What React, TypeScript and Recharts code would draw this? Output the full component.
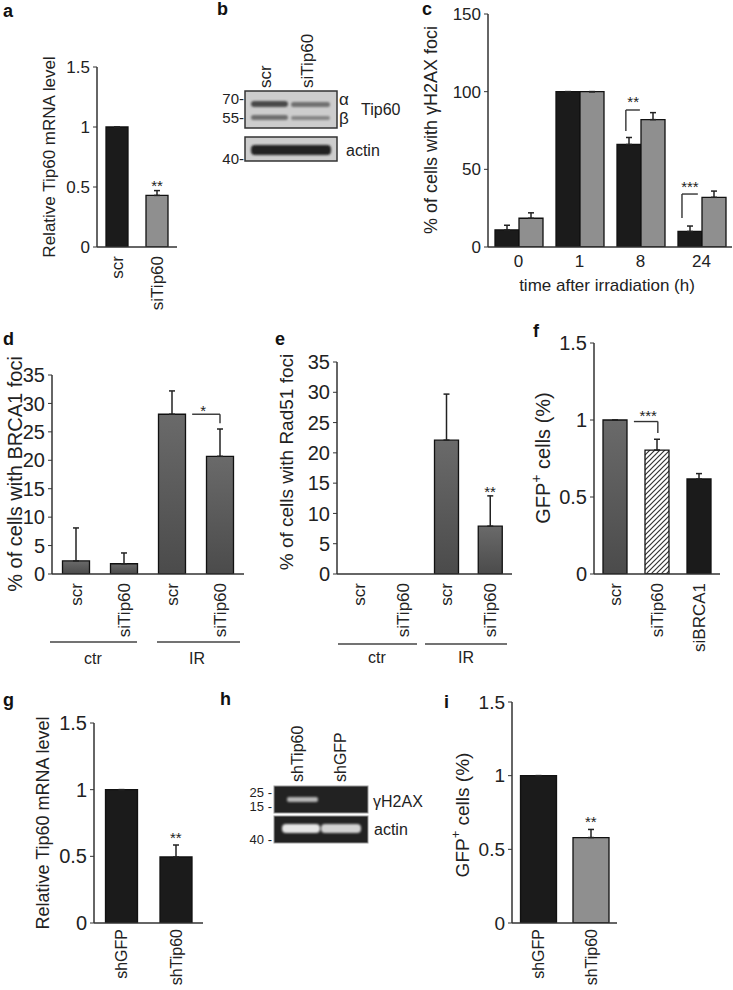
import React from "react";
import {
  BarChart,
  Bar,
  XAxis,
  YAxis,
  ErrorBar,
  Cell,
  ReferenceLine,
  ReferenceDot,
} from "recharts";

const FONT = '"Liberation Sans", Arial, Helvetica, sans-serif';
const INK = "#222";
const AXIS = "#333";
const BLACK = "#1b1b1b";
const GRAY = "#8f8f8f";

// a - Tip60 mRNA, siRNA
const A_LABELS = ["scr", "siTip60"];
const A_VALUES = [1, 0.43];
const A_ERR = [0, 0.04];
const UNIT_TICKS = [0, 0.5, 1, 1.5];

// c - gammaH2AX foci over time
const C_HOURS = ["0", "1", "8", "24"];
const C_SCR = [11, 100, 66, 10];
const C_SCR_ERR = [3, 0, 4.5, 3.5];
const C_SI = [18.5, 100, 82, 32];
const C_SI_ERR = [3.5, 0, 4.5, 4];
const C_TICKS = [0, 50, 100, 150];

// d / e - BRCA1 and Rad51 foci
const DE_LABELS = ["scr", "siTip60", "scr", "siTip60"];
const D_VALUES = [2.3, 1.8, 28.1, 20.7];
const D_ERR = [5.8, 1.9, 4.1, 4.8];
const E_VALUES = [0, 0, 22.1, 7.9];
const E_ERR = [0, 0, 7.6, 5];
const FOCI_TICKS = [0, 5, 10, 15, 20, 25, 30, 35];

// f - GFP+ cells, siRNA
const F_LABELS = ["scr", "siTip60", "siBRCA1"];
const F_VALUES = [1, 0.805, 0.617];
const F_ERR = [0, 0.07, 0.035];
const F_FILLS = ["url(#barGrad)", "url(#hatch)", BLACK];

// g / i - shRNA
const SH_LABELS = ["shGFP", "shTip60"];
const G_VALUES = [1, 0.495];
const G_ERR = [0, 0.09];
const I_VALUES = [1, 0.58];
const I_ERR = [0, 0.055];

// significance marks: brackets are polylines of [category position, value]
const A_STARS: [number, number, string][] = [[1.5, 0.51, "**"]];
const C_BRACKETS = [
  [[2.26, 74.7], [2.26, 88.2], [2.49, 88.2]],
  [[3.18, 18.7], [3.18, 34.1], [3.44, 34.1]],
];
const C_STARS: [number, number, string][] = [
  [2.38, 93.4, "**"],
  [3.31, 38.6, "***"],
];
const D_BRACKETS = [[[2.92, 28.1], [3.5, 28.1], [3.5, 26.5]]];
const D_STARS: [number, number, string][] = [[3.15, 28.8, "*"]];
const E_STARS: [number, number, string][] = [[3.5, 13.6, "**"]];
const F_BRACKETS = [[[0.95, 0.99], [1.52, 0.99], [1.52, 0.915]]];
const F_STARS: [number, number, string][] = [[1.29, 1.03, "***"]];
const G_STARS: [number, number, string][] = [[1.5, 0.64, "**"]];
const I_STARS: [number, number, string][] = [[1.5, 0.69, "**"]];

const rows = (labels: string[], values: number[], errs: number[]) =>
  labels.map((name, i) => ({ name, pos: i + 0.5, value: values[i], err: [0, errs[i]] }));

const cData = C_HOURS.map((name, i) => ({
  name,
  pos: i + 0.5,
  scr: C_SCR[i],
  si: C_SI[i],
  scrErr: [0, C_SCR_ERR[i]],
  siErr: [0, C_SI_ERR[i]],
}));

const rotTick = (size: number) => (p: any) => (
  <text
    x={p.x}
    y={p.y}
    transform={`rotate(-90 ${p.x} ${p.y})`}
    textAnchor="end"
    dy="0.36em"
    fontSize={size}
    fill={INK}
  >
    {p.payload.value}
  </text>
);

const yAxis = (domain: number[], ticks: number[], size: number) => (
  <YAxis
    type="number"
    domain={domain}
    ticks={ticks}
    interval={0}
    allowDataOverflow
    width={45}
    tickSize={4}
    tickMargin={3}
    tick={{ fontSize: size, fill: INK }}
    tickLine={{ stroke: AXIS }}
    axisLine={{ stroke: AXIS, strokeWidth: 1.5 }}
  />
);

const xAxis = (height: number, size: number, margin = 9) => (
  <XAxis
    dataKey="name"
    height={height}
    interval={0}
    tickLine={false}
    tickSize={0}
    tickMargin={margin}
    tick={rotTick(size)}
    axisLine={{ stroke: AXIS, strokeWidth: 1.5 }}
  />
);

// hidden linear axis over the categories, used to place brackets and stars
const posAxis = (n: number) => (
  <XAxis xAxisId="n" dataKey="pos" type="number" domain={[0, n]} allowDataOverflow hide />
);

const brackets = (lines: number[][][], key: string) =>
  lines.flatMap((pts, i) =>
    pts.slice(1).map((p, j) => (
      <ReferenceLine
        key={`${key}-${i}-${j}`}
        xAxisId="n"
        segment={[
          { x: pts[j][0], y: pts[j][1] },
          { x: p[0], y: p[1] },
        ]}
        stroke={AXIS}
        strokeWidth={1.4}
      />
    ))
  );

const stars = (list: [number, number, string][], key: string, size = 15) =>
  list.map(([x, y, t], i) => (
    <ReferenceDot
      key={`${key}-${i}`}
      xAxisId="n"
      x={x}
      y={y}
      r={0}
      fill="none"
      stroke="none"
      label={{ value: t, position: "center", fontSize: size, fill: INK }}
    />
  ));

const errBar = (key = "err") => (
  <ErrorBar dataKey={key} direction="y" width={3} stroke={INK} strokeWidth={1.5} />
);

function Chart({
  axisX,
  axisTop,
  plotW,
  plotH,
  xHeight,
  right = 4,
  gap,
  data,
  children,
}: {
  axisX: number;
  axisTop: number;
  plotW: number;
  plotH: number;
  xHeight: number;
  right?: number;
  gap: number;
  data: any[];
  children: React.ReactNode;
}) {
  const top = 12;
  return (
    <div style={{ position: "absolute", left: axisX - 45, top: axisTop - top }}>
      <BarChart
        width={45 + plotW + right}
        height={top + plotH + xHeight}
        data={data}
        margin={{ top, right, left: 0, bottom: 0 }}
        barCategoryGap={gap}
        barGap={0}
      >
        {children}
      </BarChart>
    </div>
  );
}

function VTitle({ x, y, size, children }: { x: number; y: number; size: number; children: React.ReactNode }) {
  return (
    <text
      x={x}
      y={y}
      transform={`rotate(-90 ${x} ${y})`}
      textAnchor="middle"
      dominantBaseline="central"
      fontSize={size}
      fill={INK}
    >
      {children}
    </text>
  );
}

function Lane({ x, y, size, children }: { x: number; y: number; size: number; children: React.ReactNode }) {
  return (
    <text x={x} y={y} transform={`rotate(-90 ${x} ${y})`} dy="0.36em" fontSize={size} fill={INK}>
      {children}
    </text>
  );
}

const letter = (t: string, x: number, y: number) => (
  <text key={t} x={x} y={y} fontSize={18} fontWeight="bold" fill="#111">
    {t}
  </text>
);

export default function App() {
  return (
    <div
      style={{
        position: "absolute",
        left: 0,
        top: 0,
        width: 733,
        height: 990,
        background: "#fff",
        fontFamily: FONT,
        overflow: "hidden",
      }}
    >
      {/* a */}
      <Chart axisX={97} axisTop={67} plotW={80} plotH={180} xHeight={75} gap={9} data={rows(A_LABELS, A_VALUES, A_ERR)}>
        {xAxis(75, 17)}
        {posAxis(2)}
        {yAxis([0, 1.5], UNIT_TICKS, 17)}
        <Bar dataKey="value" isAnimationActive={false} stroke="#111" strokeWidth={1.3}>
          {A_VALUES.map((_, i) => (
            <Cell key={i} fill={i === 0 ? BLACK : GRAY} />
          ))}
          {errBar()}
        </Bar>
        {stars(A_STARS, "a")}
      </Chart>

      {/* c */}
      <Chart axisX={488} axisTop={14} plotW={244} plotH={233} xHeight={30} right={1} gap={7} data={cData}>
        <XAxis
          dataKey="name"
          height={30}
          interval={0}
          tickLine={false}
          tick={{ fontSize: 17, fill: INK }}
          axisLine={{ stroke: AXIS, strokeWidth: 1.5 }}
        />
        {posAxis(4)}
        {yAxis([0, 150], C_TICKS, 17)}
        <Bar dataKey="scr" fill={BLACK} stroke="#111" strokeWidth={1.3} isAnimationActive={false}>
          {errBar("scrErr")}
        </Bar>
        <Bar dataKey="si" fill={GRAY} stroke="#111" strokeWidth={1.3} isAnimationActive={false}>
          {errBar("siErr")}
        </Bar>
        {brackets(C_BRACKETS, "c")}
        {stars(C_STARS, "c")}
      </Chart>

      {/* d */}
      <Chart axisX={52} axisTop={375} plotW={192} plotH={199} xHeight={68} gap={10.5} data={rows(DE_LABELS, D_VALUES, D_ERR)}>
        {xAxis(68, 17)}
        {posAxis(4)}
        {yAxis([0, 35], FOCI_TICKS, 20)}
        <Bar dataKey="value" fill="url(#barGrad)" stroke="#111" strokeWidth={1.3} isAnimationActive={false}>
          {errBar()}
        </Bar>
        {brackets(D_BRACKETS, "d")}
        {stars(D_STARS, "d")}
      </Chart>

      {/* e */}
      <Chart axisX={337} axisTop={362} plotW={175} plotH={212} xHeight={68} gap={10} data={rows(DE_LABELS, E_VALUES, E_ERR)}>
        {xAxis(68, 17)}
        {posAxis(4)}
        {yAxis([0, 35], FOCI_TICKS, 20)}
        <Bar dataKey="value" fill="url(#barGrad)" stroke="#111" strokeWidth={1.3} isAnimationActive={false}>
          {errBar()}
        </Bar>
        {stars(E_STARS, "e")}
      </Chart>

      {/* f */}
      <Chart axisX={594} axisTop={343} plotW={126} plotH={231} xHeight={80} gap={9} data={rows(F_LABELS, F_VALUES, F_ERR)}>
        {xAxis(80, 17)}
        {posAxis(3)}
        {yAxis([0, 1.5], UNIT_TICKS, 20)}
        <Bar dataKey="value" stroke="#111" strokeWidth={1.3} isAnimationActive={false}>
          {F_FILLS.map((f, i) => (
            <Cell key={i} fill={f} />
          ))}
          {errBar()}
        </Bar>
        {brackets(F_BRACKETS, "f")}
        {stars(F_STARS, "f")}
      </Chart>

      {/* g */}
      <Chart axisX={94} axisTop={723} plotW={109} plotH={200} xHeight={65} gap={11.5} data={rows(SH_LABELS, G_VALUES, G_ERR)}>
        {xAxis(65, 16, 6)}
        {posAxis(2)}
        {yAxis([0, 1.5], UNIT_TICKS, 20)}
        <Bar dataKey="value" fill={BLACK} stroke="#111" strokeWidth={1.3} isAnimationActive={false}>
          {errBar()}
        </Bar>
        {stars(G_STARS, "g")}
      </Chart>

      {/* i */}
      <Chart axisX={512} axisTop={702} plotW={105} plotH={221} xHeight={65} gap={8.5} data={rows(SH_LABELS, I_VALUES, I_ERR)}>
        {xAxis(65, 16, 6)}
        {posAxis(2)}
        {yAxis([0, 1.5], UNIT_TICKS, 19)}
        <Bar dataKey="value" stroke="#111" strokeWidth={1.3} isAnimationActive={false}>
          {I_VALUES.map((_, i) => (
            <Cell key={i} fill={i === 0 ? BLACK : GRAY} />
          ))}
          {errBar()}
        </Bar>
        {stars(I_STARS, "i")}
      </Chart>

      <svg
        width={733}
        height={990}
        style={{ position: "absolute", left: 0, top: 0, pointerEvents: "none" }}
        fontFamily={FONT}
      >
        <defs>
          <linearGradient id="barGrad" x1="0" y1="0" x2="0" y2="1">
            <stop offset="0%" stopColor="#6a6a6a" />
            <stop offset="100%" stopColor="#4b4b4b" />
          </linearGradient>
          <pattern id="hatch" patternUnits="userSpaceOnUse" width={5} height={5}>
            <rect width={5} height={5} fill="#fff" />
            <path d="M-1,1 l2,-2 M0,5 l5,-5 M4,6 l2,-2" stroke="#333" strokeWidth={1.2} />
          </pattern>
          <filter id="soft" x="-20%" y="-50%" width="140%" height="200%">
            <feGaussianBlur stdDeviation="1.3" />
          </filter>
        </defs>

        {letter("a", 3, 17)}
        {letter("b", 217, 15)}
        {letter("c", 422, 15)}
        {letter("d", 3, 345)}
        {letter("e", 275, 345)}
        {letter("f", 533, 337)}
        {letter("g", 3, 706)}
        {letter("h", 220, 705)}
        {letter("i", 444, 708)}

        {/* axis titles */}
        <VTitle x={49} y={157} size={17}>Relative Tip60 mRNA level</VTitle>
        <VTitle x={431} y={130} size={18}>% of cells with γH2AX foci</VTitle>
        <text x={607} y={285} textAnchor="middle" dominantBaseline="central" fontSize={17} fill={INK}>
          time after irradiation (h)
        </text>
        <VTitle x={15} y={474} size={20}>% of cells with BRCA1 foci</VTitle>
        <VTitle x={286} y={462} size={19}>% of cells with Rad51 foci</VTitle>
        <VTitle x={543} y={458} size={20}>
          GFP<tspan dy={-7} fontSize={14}>+</tspan>
          <tspan dy={7}> cells (%)</tspan>
        </VTitle>
        <VTitle x={43} y={823} size={18}>Relative Tip60 mRNA level</VTitle>
        <VTitle x={462} y={815} size={19}>
          GFP<tspan dy={-7} fontSize={13}>+</tspan>
          <tspan dy={7}> cells (%)</tspan>
        </VTitle>

        {/* treatment groups under d and e */}
        <g stroke="#444" strokeWidth={1.5}>
          <line x1={50} y1={642} x2={137} y2={642} />
          <line x1={157} y1={642} x2={240} y2={642} />
          <line x1={338} y1={644} x2={417} y2={644} />
          <line x1={425} y1={644} x2={507} y2={644} />
        </g>
        <g fontSize={16} fill={INK} textAnchor="middle" dominantBaseline="central">
          <text x={93} y={658}>ctr</text>
          <text x={197} y={658}>IR</text>
          <text x={377} y={657}>ctr</text>
          <text x={466} y={657}>IR</text>
        </g>

        {/* b - western blot */}
        <Lane x={265} y={88} size={17}>scr</Lane>
        <Lane x={307} y={88} size={17}>siTip60</Lane>
        <rect x={245} y={91} width={92} height={37} fill="#cdcdcd" stroke="#333" strokeWidth={1.5} />
        <g filter="url(#soft)">
          <rect x={251} y={101} width={37} height={6} rx={3} fill="#4a4a4a" />
          <rect x={291} y={102} width={39} height={5} rx={2.5} fill="#707070" />
          <rect x={251} y={115} width={37} height={5} rx={2.5} fill="#6e6e6e" />
          <rect x={291} y={116} width={39} height={4} rx={2} fill="#858585" />
        </g>
        <rect x={245} y={137} width={92} height={24} fill="#cdcdcd" stroke="#333" strokeWidth={1.5} />
        <rect x={251} y={145} width={80} height={10} rx={4} fill="#222" filter="url(#soft)" />
        <g fontSize={15} fill={INK} textAnchor="end" dominantBaseline="central">
          <text x={244} y={98}>70-</text>
          <text x={244} y={117}>55-</text>
          <text x={244} y={158}>40-</text>
        </g>
        <g fontSize={17} fill={INK} dominantBaseline="central">
          <text x={339} y={99}>α</text>
          <text x={339} y={118}>β</text>
        </g>
        <g fontSize={16} fill={INK} dominantBaseline="central">
          <text x={361} y={109}>Tip60</text>
          <text x={346} y={150}>actin</text>
        </g>

        {/* h - gammaH2AX blot */}
        <Lane x={297} y={782} size={16}>shTip60</Lane>
        <Lane x={340} y={782} size={16}>shGFP</Lane>
        <rect x={274} y={786} width={94} height={27} fill="#222" stroke="#999" strokeWidth={1} />
        <rect x={287} y={797} width={31} height={5} rx={2} fill="#b5b5b5" filter="url(#soft)" />
        <rect x={274} y={816} width={94} height={27} fill="#222" stroke="#999" strokeWidth={1} />
        <g filter="url(#soft)">
          <rect x={282} y={824} width={38} height={9} rx={4} fill="#e6e6e6" />
          <rect x={321} y={824} width={40} height={9} rx={4} fill="#d2d2d2" />
        </g>
        <g fontSize={13} fill={INK} textAnchor="end" dominantBaseline="central">
          <text x={272} y={792}>25 -</text>
          <text x={272} y={806}>15 -</text>
          <text x={272} y={839}>40 -</text>
        </g>
        <g fontSize={16} fill={INK} dominantBaseline="central">
          <text x={373} y={801}>γH2AX</text>
          <text x={374} y={829}>actin</text>
        </g>
      </svg>
    </div>
  );
}
